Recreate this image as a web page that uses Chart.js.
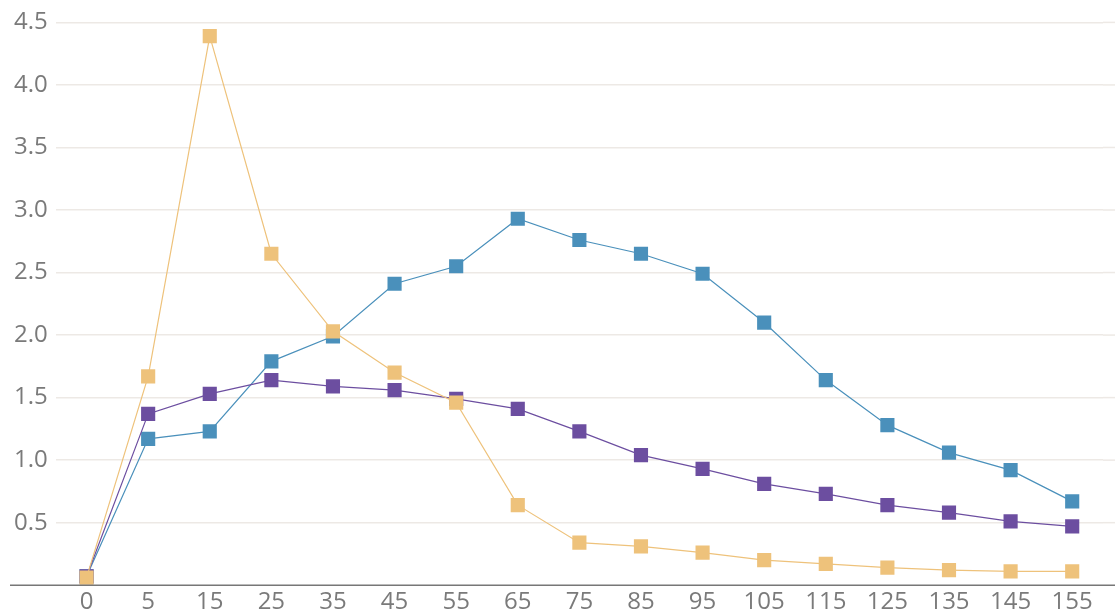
<!DOCTYPE html>
<html lang="en">
<head>
    <meta charset="utf-8" />
    <title>Series chart</title>
    <script src="https://cdn.jsdelivr.net/npm/chart.js@4"></script>
    <style>
        html, body { margin: 0; padding: 0; background: #fff; overflow: hidden; }
        #wrap { width: 1115px; height: 620px; position: relative; }
    </style>
</head>
<body>
    <div id="wrap"><canvas id="chart"></canvas></div>

    <script>
        const categories = ["0", "5", "15", "25", "35", "45", "55", "65", "75", "85", "95", "105", "115", "125", "135", "145", "155"];
        const blueValues = [0.07, 1.17, 1.23, 1.79, 1.99, 2.41, 2.55, 2.93, 2.76, 2.65, 2.49, 2.10, 1.64, 1.28, 1.06, 0.92, 0.67];
        const purpleValues = [0.07, 1.37, 1.53, 1.64, 1.59, 1.56, 1.49, 1.41, 1.23, 1.04, 0.93, 0.81, 0.73, 0.64, 0.58, 0.51, 0.47];
        const orangeValues = [0.06, 1.67, 4.39, 2.65, 2.03, 1.70, 1.46, 0.64, 0.34, 0.31, 0.26, 0.20, 0.17, 0.14, 0.12, 0.11, 0.11];
        const yTicks = [0.5, 1.0, 1.5, 2.0, 2.5, 3.0, 3.5, 4.0, 4.5];

        const GRID = "#ede9e5";

        const series = (data, color, order) => ({
            data: data,
            borderColor: color,
            backgroundColor: color,
            borderWidth: 1.2,
            pointStyle: "rect",
            pointRadius: 10,
            pointHoverRadius: 10,
            pointBorderWidth: 0,
            tension: 0,
            order: order
        });

        // baseline runs past the plot on the left, gridlines run to the right edge
        const frame = {
            id: "frame",
            beforeDatasetsDraw(chart) {
                const { ctx, chartArea, scales } = chart;
                ctx.save();
                ctx.strokeStyle = GRID;
                ctx.lineWidth = 1.5;
                yTicks.forEach(v => {
                    const y = scales.y.getPixelForValue(v);
                    ctx.beginPath();
                    ctx.moveTo(chartArea.right, y);
                    ctx.lineTo(chart.width, y);
                    ctx.stroke();
                });
                ctx.restore();
            },
            afterDraw(chart) {
                const y = chart.scales.y.getPixelForValue(0);
                const ctx = chart.ctx;
                ctx.save();
                ctx.strokeStyle = "#777";
                ctx.lineWidth = 1.5;
                ctx.beginPath();
                ctx.moveTo(10, y);
                ctx.lineTo(chart.width, y);
                ctx.stroke();
                ctx.restore();
            }
        };

        new Chart(document.getElementById("chart"), {
            type: "line",
            data: {
                labels: categories,
                datasets: [
                    series(blueValues, "#4a90bb", 3),
                    series(purpleValues, "#6c4ea0", 2),
                    series(orangeValues, "#eec27b", 1)
                ]
            },
            options: {
                responsive: true,
                maintainAspectRatio: false,
                animation: false,
                layout: { padding: { top: 12, right: 12, left: 6, bottom: 0 } },
                plugins: { legend: { display: false }, tooltip: { enabled: false } },
                scales: {
                    x: {
                        offset: true,
                        grid: { display: false, drawTicks: false },
                        border: { display: false },
                        ticks: {
                            color: "#7a7a7a",
                            font: { family: "Open Sans", size: 24 },
                            padding: 3,
                            maxRotation: 0,
                            autoSkip: false
                        }
                    },
                    y: {
                        min: 0,
                        max: 4.5,
                        afterBuildTicks(axis) {
                            axis.ticks = yTicks.map(v => ({ value: v }));
                        },
                        grid: { color: GRID, lineWidth: 1.5, drawTicks: false },
                        border: { display: false },
                        ticks: {
                            color: "#7a7a7a",
                            font: { family: "Open Sans", size: 24 },
                            padding: 8,
                            callback: v => v.toFixed(1)
                        }
                    }
                }
            },
            plugins: [frame]
        });
    </script>
</body>
</html>
